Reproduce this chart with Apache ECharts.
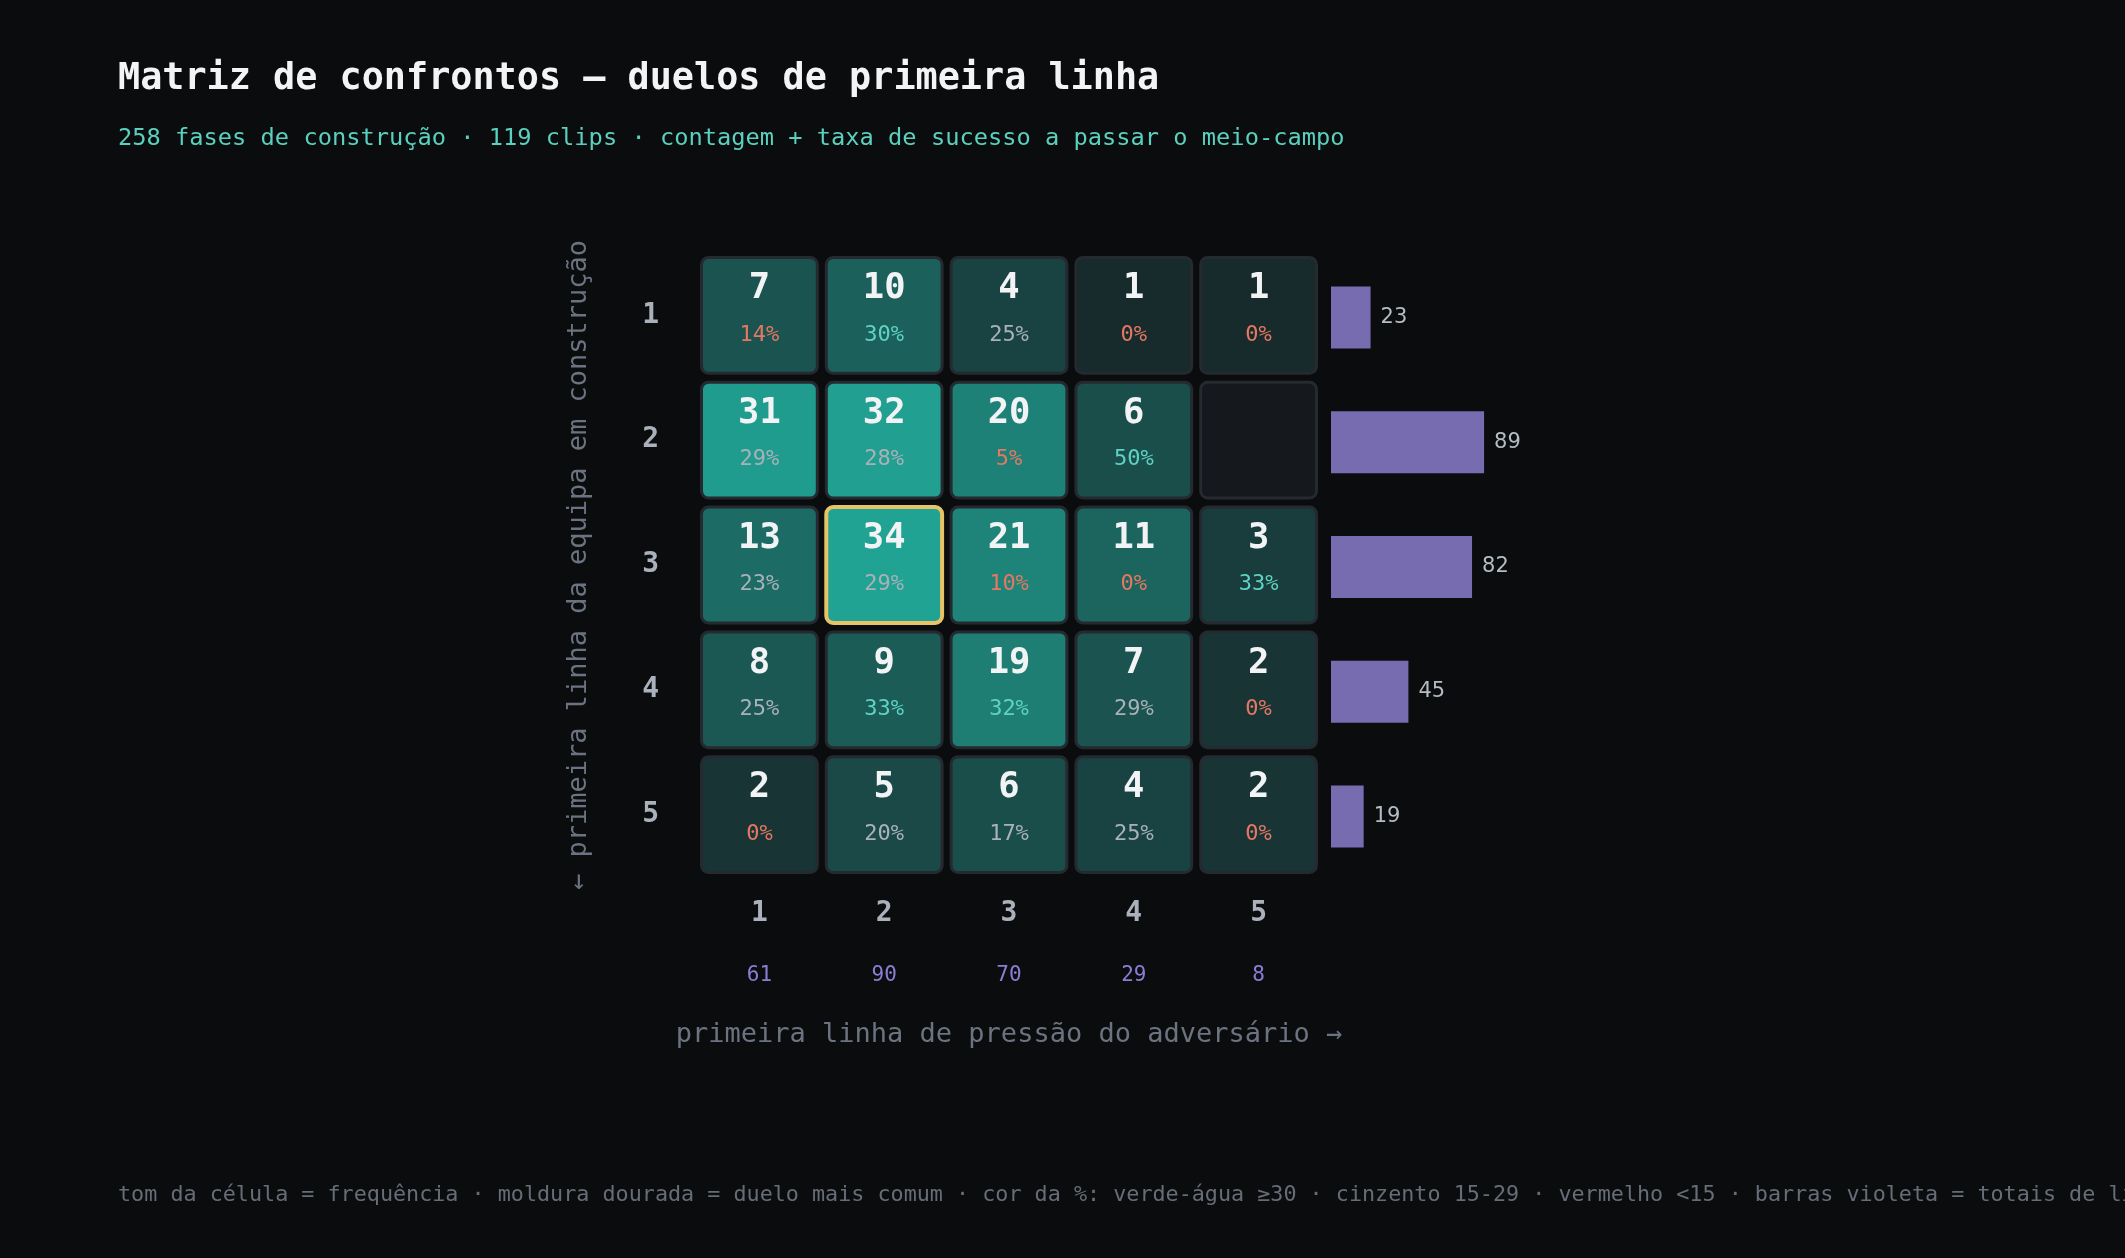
<!DOCTYPE html>
<html>
<head>
<meta charset="utf-8">
<script src="https://cdn.jsdelivr.net/npm/echarts@6/dist/echarts.min.js"></script>
<style>
html, body { margin: 0; padding: 0; background: #0b0c0e; }
#chart { width: 2125px; height: 1258px; }
</style>
</head>
<body>
<div id="chart"></div>
<script>
// linhas = equipa em construção (1..5), colunas = pressão do adversário (1..5)
const rowLabels = ['1', '2', '3', '4', '5'];
const colLabels = ['1', '2', '3', '4', '5'];

const counts = [
  [7, 10, 4, 1, 1],
  [31, 32, 20, 6, 0],
  [13, 34, 21, 11, 3],
  [8, 9, 19, 7, 2],
  [2, 5, 6, 4, 2]
];
// taxa de sucesso (%) — null = sem dados
const rates = [
  [14, 30, 25, 0, 0],
  [29, 28, 5, 50, null],
  [23, 29, 10, 0, 33],
  [25, 33, 32, 29, 0],
  [0, 20, 17, 25, 0]
];
const rowTotals = [23, 89, 82, 45, 19];
const colTotals = [61, 90, 70, 29, 8];

const MONO = "'DejaVu Sans Mono', monospace";
const SANS = "'DejaVu Sans', sans-serif";

const cells = [];
let maxCount = 0;
counts.forEach((row, r) => row.forEach((v, c) => {
  cells.push([c, r, v, rates[r][c]]);
  if (v > maxCount) maxCount = v;
}));

function cellColor(v) {
  const t = (Math.sqrt(v) - 1) / (Math.sqrt(maxCount) - 1);
  return echarts.color.lerp(Math.max(0, Math.min(1, t)), ['#172a2c', '#21a394']);
}
function rateColor(p) {
  if (p >= 30) return '#5fd3c3';
  if (p >= 15) return '#a9b1b9';
  return '#e57862';
}

const chart = echarts.init(document.getElementById('chart'));
chart.setOption({
  backgroundColor: '#0b0c0e',
  animation: false,
  title: [
    {
      text: 'Matriz de confrontos — duelos de primeira linha',
      subtext: '258 fases de construção · 119 clips · contagem + taxa de sucesso a passar o meio-campo',
      left: 113, top: 54, itemGap: 25,
      textStyle: { color: '#f2f4f6', fontFamily: MONO, fontWeight: 'bold', fontSize: 36.8, lineHeight: 40 },
      subtextStyle: { color: '#5ad0bf', fontFamily: MONO, fontSize: 23.7, lineHeight: 30 }
    },
    {
      text: 'tom da célula = frequência · moldura dourada = duelo mais comum · cor da %: verde-água ≥30 · cinzento 15-29 · vermelho <15 · barras violeta = totais de linha',
      left: 113, top: 1177,
      textStyle: { color: '#666d76', fontFamily: MONO, fontSize: 21.75, fontWeight: 'normal', lineHeight: 26 }
    }
  ],
  grid: [
    { left: 697, top: 253, width: 624, height: 624 },
    { left: 1331, top: 255, width: 172, height: 624 }
  ],
  xAxis: [
    {
      gridIndex: 0, type: 'category', data: colLabels, position: 'bottom',
      axisLine: { show: false }, axisTick: { show: false }, splitLine: { show: false },
      axisLabel: { color: '#aab1ba', fontFamily: MONO, fontWeight: 'bold', fontSize: 28, margin: 23 },
      name: 'primeira linha de pressão do adversário →',
      nameLocation: 'middle', nameGap: 144,
      nameTextStyle: { color: '#6b7380', fontFamily: MONO, fontSize: 27 }
    },
    {
      gridIndex: 0, type: 'category', data: colTotals.map(String), position: 'bottom', offset: 62,
      axisLine: { show: false }, axisTick: { show: false }, splitLine: { show: false },
      axisLabel: { color: '#8a7ed4', fontFamily: MONO, fontSize: 21, margin: 26 }
    },
    {
      gridIndex: 1, type: 'value', min: 0, max: 100, show: false
    }
  ],
  yAxis: [
    {
      gridIndex: 0, type: 'category', data: rowLabels, inverse: true,
      axisLine: { show: false }, axisTick: { show: false }, splitLine: { show: false },
      axisLabel: { color: '#aab1ba', fontFamily: MONO, fontWeight: 'bold', fontSize: 28, margin: 38 },
      name: '← primeira linha da equipa em construção',
      nameLocation: 'middle', nameGap: 105,
      nameTextStyle: { color: '#6b7380', fontFamily: MONO, fontSize: 27 }
    },
    {
      gridIndex: 1, type: 'category', data: rowLabels, inverse: true, show: false
    }
  ],
  series: [
    {
      type: 'custom',
      xAxisIndex: 0, yAxisIndex: 0,
      data: cells,
      renderItem: function (params, api) {
        const c = api.coord([api.value(0), api.value(1)]);
        const s = api.size([1, 1]);
        const v = api.value(2);
        const p = cells[params.dataIndex][3];
        const top = v === maxCount;
        const children = [{
          type: 'rect',
          shape: { x: c[0] - s[0] / 2 + 4.5, y: c[1] - s[1] / 2 + 4.5, width: s[0] - 9, height: s[1] - 9, r: 7 },
          style: {
            fill: v > 0 ? cellColor(v) : '#15181c',
            stroke: top ? '#e8c468' : '#252a30',
            lineWidth: top ? 4 : 3
          }
        }];
        if (v > 0) {
          children.push({
            type: 'text',
            style: {
              text: String(v), x: c[0], y: c[1] - 26.5, align: 'center', verticalAlign: 'middle',
              fill: '#f1f3f5', fontFamily: MONO, fontWeight: 'bold', fontSize: 35.5
            }
          });
          if (p !== null && p !== undefined) {
            children.push({
              type: 'text',
              style: {
                text: p + '%', x: c[0], y: c[1] + 19.5, align: 'center', verticalAlign: 'middle',
                fill: rateColor(p), fontFamily: MONO, fontSize: 22
              }
            });
          }
        }
        return { type: 'group', children: children };
      }
    },
    {
      type: 'bar',
      xAxisIndex: 2, yAxisIndex: 1,
      data: rowTotals,
      barWidth: 62,
      itemStyle: { color: '#776cb0' },
      label: {
        show: true, position: 'right', distance: 10,
        color: '#b4bcc4', fontFamily: SANS, fontSize: 21
      }
    }
  ]
});
</script>
</body>
</html>
